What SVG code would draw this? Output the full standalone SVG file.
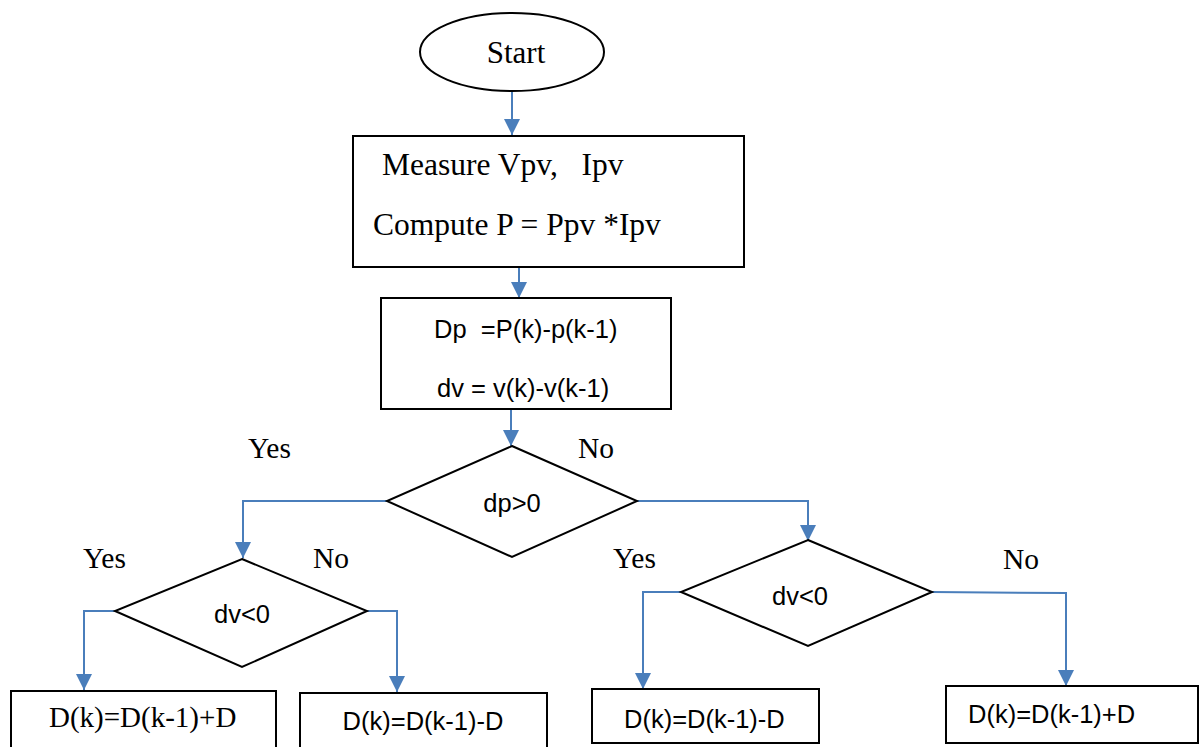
<svg xmlns="http://www.w3.org/2000/svg" width="1199" height="747" viewBox="0 0 1199 747">
<style>
.shape{fill:#fff;stroke:#000;stroke-width:2}
.serif{font-family:"Liberation Serif","Times New Roman",serif;font-size:29.5px;fill:#000;white-space:pre}
.sans{font-family:"Liberation Sans",Arial,sans-serif;font-size:25.5px;fill:#000;white-space:pre}
.conn{fill:none;stroke:#4a7ebb;stroke-width:2;marker-end:url(#arr)}
</style>
<defs>
<marker id="arr" markerUnits="userSpaceOnUse" markerWidth="16" markerHeight="17" refX="16" refY="8" orient="auto" viewBox="0 0 16 16">
<path d="M0,0 L16,8 L0,16 z" fill="#4a7ebb"/>
</marker>
</defs>
<rect width="1199" height="747" fill="#fff"/>
<g id="connectors">
<path class="conn" d="M512,92 L512,135"/>
<path class="conn" d="M519,267 L519,298"/>
<path class="conn" d="M511,409 L511,446"/>
<path class="conn" d="M387,501 L243,501 L243,558"/>
<path class="conn" d="M637,501 L808,501 L808,541"/>
<path class="conn" d="M115,611 L84,611 L84,690"/>
<path class="conn" d="M367,611 L397,611 L397,692"/>
<path class="conn" d="M681,592 L643,592 L643,689"/>
<path class="conn" d="M932,592 L1066,593 L1066,686"/>
</g>
<g id="start">
<ellipse class="shape" cx="512" cy="52" rx="92" ry="39"/>
<text class="serif" x="516" y="63" text-anchor="middle" style="font-size:31px">Start</text>
</g>
<g id="measure">
<rect class="shape" x="353" y="136" width="391" height="131"/>
<text class="serif" x="382" y="175" style="font-size:31.5px">Measure Vpv,   Ipv</text>
<text class="serif" x="373" y="235" style="font-size:31.5px">Compute P = Ppv *Ipv</text>
</g>
<g id="diff">
<rect class="shape" x="381" y="298" width="290" height="111"/>
<text class="sans" x="434" y="338">Dp  =P(k)-p(k-1)</text>
<text class="sans" x="437" y="397">dv = v(k)-v(k-1)</text>
</g>
<g id="dp-decision">
<polygon class="shape" points="512,446 637,501 512,557 387,501"/>
<text class="sans" x="512" y="512" text-anchor="middle">dp&gt;0</text>
</g>
<g id="dv-left">
<polygon class="shape" points="242,559 367,611 242,667 115,611"/>
<text class="sans" x="242" y="623" text-anchor="middle">dv&lt;0</text>
</g>
<g id="dv-right">
<polygon class="shape" points="808,540 932,592 808,646 681,592"/>
<text class="sans" x="800" y="605" text-anchor="middle">dv&lt;0</text>
</g>
<g id="box-ll">
<rect class="shape" x="11" y="691" width="265" height="70"/>
<text class="serif" x="49" y="727" style="font-size:29px">D(k)=D(k-1)+D</text>
</g>
<g id="box-lr">
<rect class="shape" x="300" y="693" width="247" height="70"/>
<text class="sans" x="423" y="730" text-anchor="middle">D(k)=D(k-1)-D</text>
</g>
<g id="box-rl">
<rect class="shape" x="592" y="689" width="227" height="54"/>
<text class="sans" x="624" y="728">D(k)=D(k-1)-D</text>
</g>
<g id="box-rr">
<rect class="shape" x="946" y="686" width="252" height="57"/>
<text class="sans" x="968" y="723">D(k)=D(k-1)+D</text>
</g>
<g id="labels">
<text class="serif" x="248" y="458">Yes</text>
<text class="serif" x="578" y="458">No</text>
<text class="serif" x="83" y="568">Yes</text>
<text class="serif" x="313" y="568">No</text>
<text class="serif" x="613" y="568">Yes</text>
<text class="serif" x="1003" y="569">No</text>
</g>
</svg>
